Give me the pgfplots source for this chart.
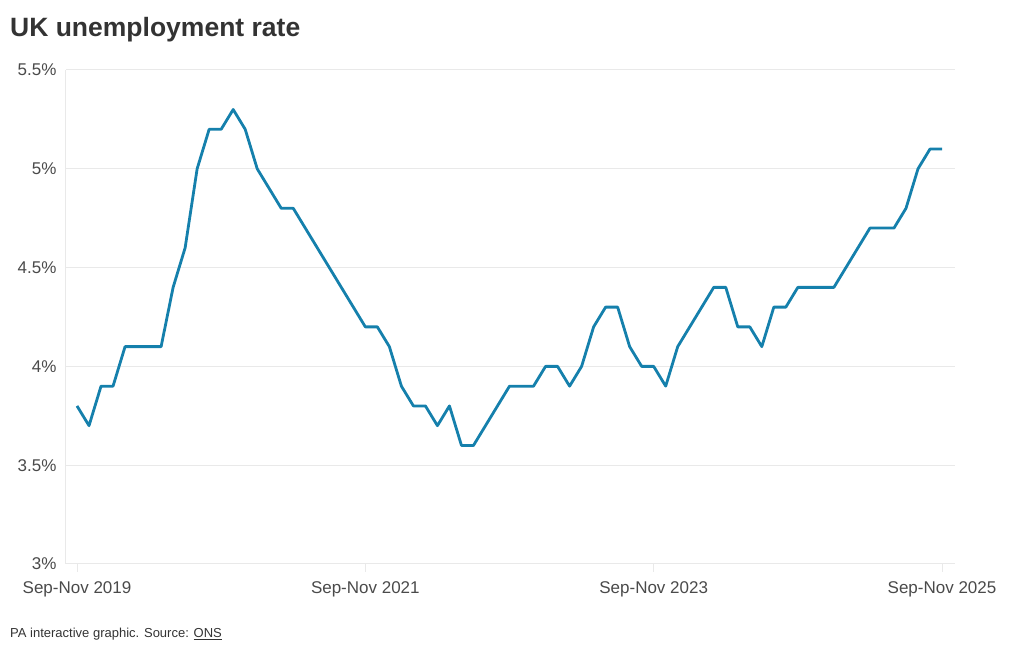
\documentclass[border=0pt]{standalone}
\usepackage{pgfplots}
\pgfplotsset{compat=1.18}
\usepackage{fontspec}
\setmainfont{Liberation Sans}
\definecolor{linec}{HTML}{1580AC}
\definecolor{gridc}{HTML}{E9E9E9}
\definecolor{txt}{HTML}{333333}
\definecolor{lbl}{HTML}{4A4A4A}
\begin{document}
\begin{tikzpicture}
\path (0pt,0pt) rectangle (1020pt,650pt);
\node[anchor=base west, text=txt, inner sep=0pt] at (10pt,613pt) {\fontsize{26.5}{30}\selectfont\bfseries UK unemployment rate};
\node[anchor=base west, text=txt, inner sep=0pt] at (10pt,12pt) {\fontsize{13}{15}\selectfont PA interactive graphic. Source: \underline{ONS}};
\begin{axis}[
  at={(66pt,86pt)}, anchor=south west,
  scale only axis, width=889pt, height=494pt,
  xmin=-0.916, xmax=73.08, ymin=3, ymax=5.5,
  axis lines=left, axis line style={draw=gridc, line width=1pt, -},
  ymajorgrids, grid style={draw=gridc, line width=1pt},
  xtick={0,24,48,72},
  xticklabels={Sep-Nov 2019,Sep-Nov 2021,Sep-Nov 2023,Sep-Nov 2025},
  ytick={3,3.5,4,4.5,5,5.5},
  yticklabels={3\%,3.5\%,4\%,4.5\%,5\%,5.5\%},
  tick align=outside, major tick length=8pt,
  xtick style={draw=gridc, line width=1pt},
  ytick style={draw=none},
  ticklabel style={font=\fontsize{17}{20}\selectfont, text=lbl},
  yticklabel style={anchor=east, xshift=2pt},
  xticklabel style={anchor=north, yshift=-6pt},
  clip=false,
]
\addplot[color=linec, line width=2.8pt, line join=round, mark=none] coordinates {
(0,3.8)(1,3.7)(2,3.9)(3,3.9)(4,4.1)(5,4.1)(6,4.1)(7,4.1)(8,4.4)(9,4.6)
(10,5.0)(11,5.2)(12,5.2)(13,5.3)(14,5.2)(15,5.0)(16,4.9)(17,4.8)(18,4.8)(19,4.7)
(20,4.6)(21,4.5)(22,4.4)(23,4.3)(24,4.2)(25,4.2)(26,4.1)(27,3.9)(28,3.8)(29,3.8)
(30,3.7)(31,3.8)(32,3.6)(33,3.6)(34,3.7)(35,3.8)(36,3.9)(37,3.9)(38,3.9)(39,4.0)
(40,4.0)(41,3.9)(42,4.0)(43,4.2)(44,4.3)(45,4.3)(46,4.1)(47,4.0)(48,4.0)(49,3.9)
(50,4.1)(51,4.2)(52,4.3)(53,4.4)(54,4.4)(55,4.2)(56,4.2)(57,4.1)(58,4.3)(59,4.3)
(60,4.4)(61,4.4)(62,4.4)(63,4.4)(64,4.5)(65,4.6)(66,4.7)(67,4.7)(68,4.7)(69,4.8)
(70,5.0)(71,5.1)(72,5.1)
};
\end{axis}
\end{tikzpicture}
\end{document}
